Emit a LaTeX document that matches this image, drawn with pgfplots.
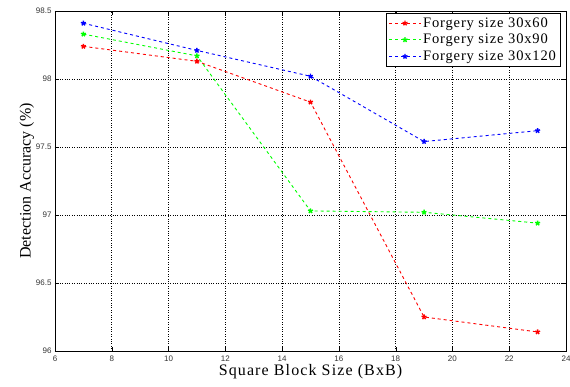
\documentclass[border=0pt]{standalone}
\usepackage{fontspec}
\setmainfont{Liberation Serif}
\newfontfamily\tickfont{Liberation Sans}
\newfontfamily\xlabfont[LetterSpace=7]{Liberation Serif}
\newfontfamily\legfont[LetterSpace=6]{Liberation Serif}
\usepackage{pgfplots}
\pgfplotsset{compat=1.18}
\begin{document}
\begin{tikzpicture}
\path[use as bounding box] (-55pt,-36pt) rectangle (515pt,351pt);
\begin{axis}[
  scale only axis, width=511pt, height=340pt,
  xmin=6, xmax=24, ymin=96, ymax=98.5,
  xtick={6,8,...,24}, ytick={96,96.5,...,98.5},
  yticklabels={96,96.5,97,97.5,98,98.5},
  grid=major, major grid style={black, dotted, line width=0.6pt},
  tick align=inside, tick pos=both,
  axis line style={black, line width=0.8pt},
  tick style={black},
  /pgf/number format/assume math mode=true,
  ticklabel style={font=\tickfont\fontsize{8}{9}\selectfont, color=black!80},
  xticklabel style={yshift=-1pt},
  xlabel={\xlabfont Square Block Size (BxB)},
  ylabel={Detection Accuracy (\%)},
  label style={font=\fontsize{16}{17}\selectfont},
  xlabel style={yshift=4pt},
  ylabel style={yshift=-5pt},
  legend style={at={(0.99,0.995)}, anchor=north east, font=\legfont\fontsize{14.5}{15}\selectfont,
    draw=black, line width=0.8pt, row sep=1.5pt, inner sep=2.5pt},
  legend cell align=left,
  legend image code/.code={\draw[#1,mark repeat=2,mark phase=2] plot coordinates {(0cm,0cm) (0.55cm,0cm) (1.1cm,0cm)};},
  every axis plot/.append style={dashed, line width=0.9pt, mark=star, mark size=2.6pt, mark options={solid, line width=1.4pt}},
]
\addplot[red] coordinates {(7,98.24) (11,98.13) (15,97.83) (19,96.25) (23,96.14)};
\addplot[green] coordinates {(7,98.33) (11,98.17) (15,97.03) (19,97.02) (23,96.94)};
\addplot[blue] coordinates {(7,98.41) (11,98.21) (15,98.02) (19,97.54) (23,97.62)};
\legend{Forgery size 30x60, Forgery size 30x90, Forgery size 30x120}
\end{axis}
\end{tikzpicture}
\end{document}
